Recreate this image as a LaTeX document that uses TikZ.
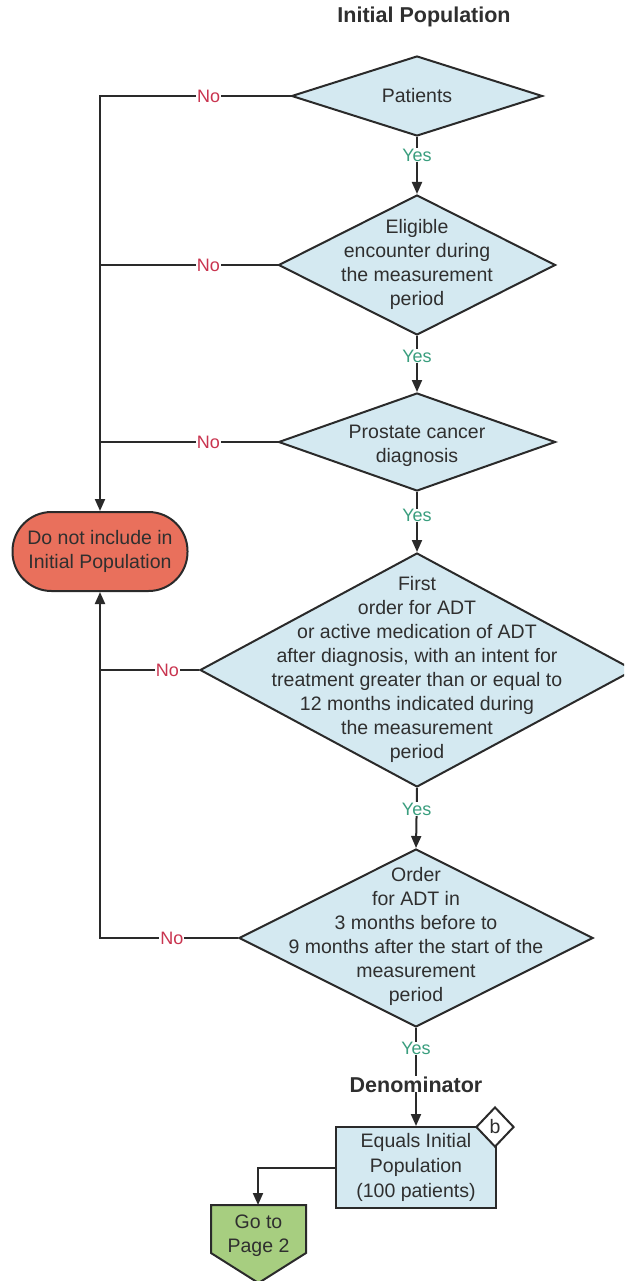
\documentclass[tikz,border=0pt]{standalone}
\usepackage{fontspec}
\setmainfont{Liberation Sans}
\usetikzlibrary{shapes.geometric,arrows.meta}
\definecolor{ln}{HTML}{2A2A2A}
\definecolor{txt}{HTML}{2F2F2F}
\definecolor{diafill}{HTML}{D4E9F1}
\definecolor{termfill}{HTML}{E9705C}
\definecolor{gofill}{HTML}{A7CE80}
\definecolor{yescol}{HTML}{3A9E7E}
\definecolor{nocol}{HTML}{C9344F}
\begin{document}
\begin{tikzpicture}[x=1pt,y=-1pt,
  font=\fontsize{19.5}{24}\selectfont,
  every node/.style={text=txt},
  dia/.style={diamond, draw=ln, line width=2pt, fill=diafill, inner sep=0pt},
  body/.style={align=center, inner sep=0pt},
  conn/.style={draw=ln, line width=2pt},
  arr/.style={conn, -{Triangle[length=12pt,width=10pt]}},
  yes/.style={fill=white, text=yescol, font=\fontsize{18}{20}\selectfont, inner sep=0.5pt},
  no/.style={fill=white, text=nocol, font=\fontsize{18}{20}\selectfont, inner sep=1pt},
  ttl/.style={font=\bfseries\fontsize{21.5}{24}\selectfont},
  term/.style={draw=ln, line width=2pt, fill=termfill, rounded corners=39pt, minimum width=175, minimum height=79, align=center, inner sep=0pt},
  procbox/.style={draw=ln, line width=2pt, fill=diafill, minimum width=160, minimum height=81, align=center, inner sep=0pt, font=\fontsize{19.5}{25}\selectfont},
  tag/.style={diamond, draw=ln, line width=2pt, fill=white, inner sep=0pt, minimum width=38, minimum height=40}
]
\path[use as bounding box] (0,0) rectangle (624,1281);
\clip (0,0) rectangle (624,1281);

\node[ttl] (title) at (424,17) {Initial Population};

% decisions
\node[dia, minimum width=251, minimum height=80] (d1) at (417,96) {};
\node[body] (d1t) at (417,96) {Patients};

\node[dia, minimum width=277, minimum height=140] (d2) at (417,265) {};
\node[body] (d2t) at (417,264) {Eligible\\encounter during\\the measurement\\period};

\node[dia, minimum width=277, minimum height=98] (d3) at (417,442) {};
\node[body] (d3t) at (417,446) {Prostate cancer\\diagnosis};

\node[dia, minimum width=434, minimum height=234] (d4) at (417,670) {};
\node[body] (d4t) at (417,669) {First\\order for ADT\\or active medication of ADT\\after diagnosis, with an intent for\\treatment greater than or equal to\\12 months indicated during\\the measurement\\period};

\node[dia, minimum width=354, minimum height=178] (d5) at (416,938) {};
\node[body] (d5t) at (416,936) {Order\\for ADT in\\3 months before to\\9 months after the start of the\\measurement\\period};

% terminal
\node[term] (term) at (100,551.5) {Do not include in\\Initial Population};

% denominator box
\node[procbox] (box) at (416,1167.5) {Equals Initial\\Population\\(100 patients)};
\node[tag] (btag) at (495,1127) {b};

% off-page connector
\coordinate (gotop) at (258,1205);
\draw[draw=ln, line width=2pt, fill=gofill] (211,1205) -- (306,1205) -- (306,1253) -- (258.5,1283) -- (211,1253) -- cycle;
\node[body] (goto) at (258.5,1236) {Go to\\Page 2};

% yes connectors
\draw[arr] (d1.south) -- node[yes,pos=.32] (y1) {Yes} (d2.north);
\draw[arr] (d2.south) -- node[yes,pos=.36] (y2) {Yes} (d3.north);
\draw[arr] (d3.south) -- node[yes,pos=.39] (y3) {Yes} (d4.north);
\draw[arr] (d4.south) -- node[yes,pos=.35] (y4) {Yes} (d5.north);
\draw[arr] (d5.south) -- node[yes,pos=.21] (y5) {Yes}
  node[ttl, fill=white, inner sep=0pt, pos=.575] (denom) {Denominator} (box.north);

% no connectors
\coordinate (j1) at (100,96);
\coordinate (j2) at (100,265);
\coordinate (j3) at (100,442);
\coordinate (j4) at (100,670);
\coordinate (j5) at (100,938);
\draw[arr] (d1.west) -- node[no,pos=.43] (n1) {No} (j1) -- (term.north);
\draw[conn] (d2.west) -- node[no,pos=.39] (n2) {No} (j2);
\draw[conn] (d3.west) -- node[no,pos=.39] (n3) {No} (j3);
\draw[conn] (d4.west) -- node[no,pos=.32] (n4) {No} (j4);
\draw[arr] (d5.west) -- node[no,pos=.48] (n5) {No} (j5) -- (term.south);

% to page 2
\draw[arr] (box.west) -| (gotop);
\end{tikzpicture}
\end{document}
